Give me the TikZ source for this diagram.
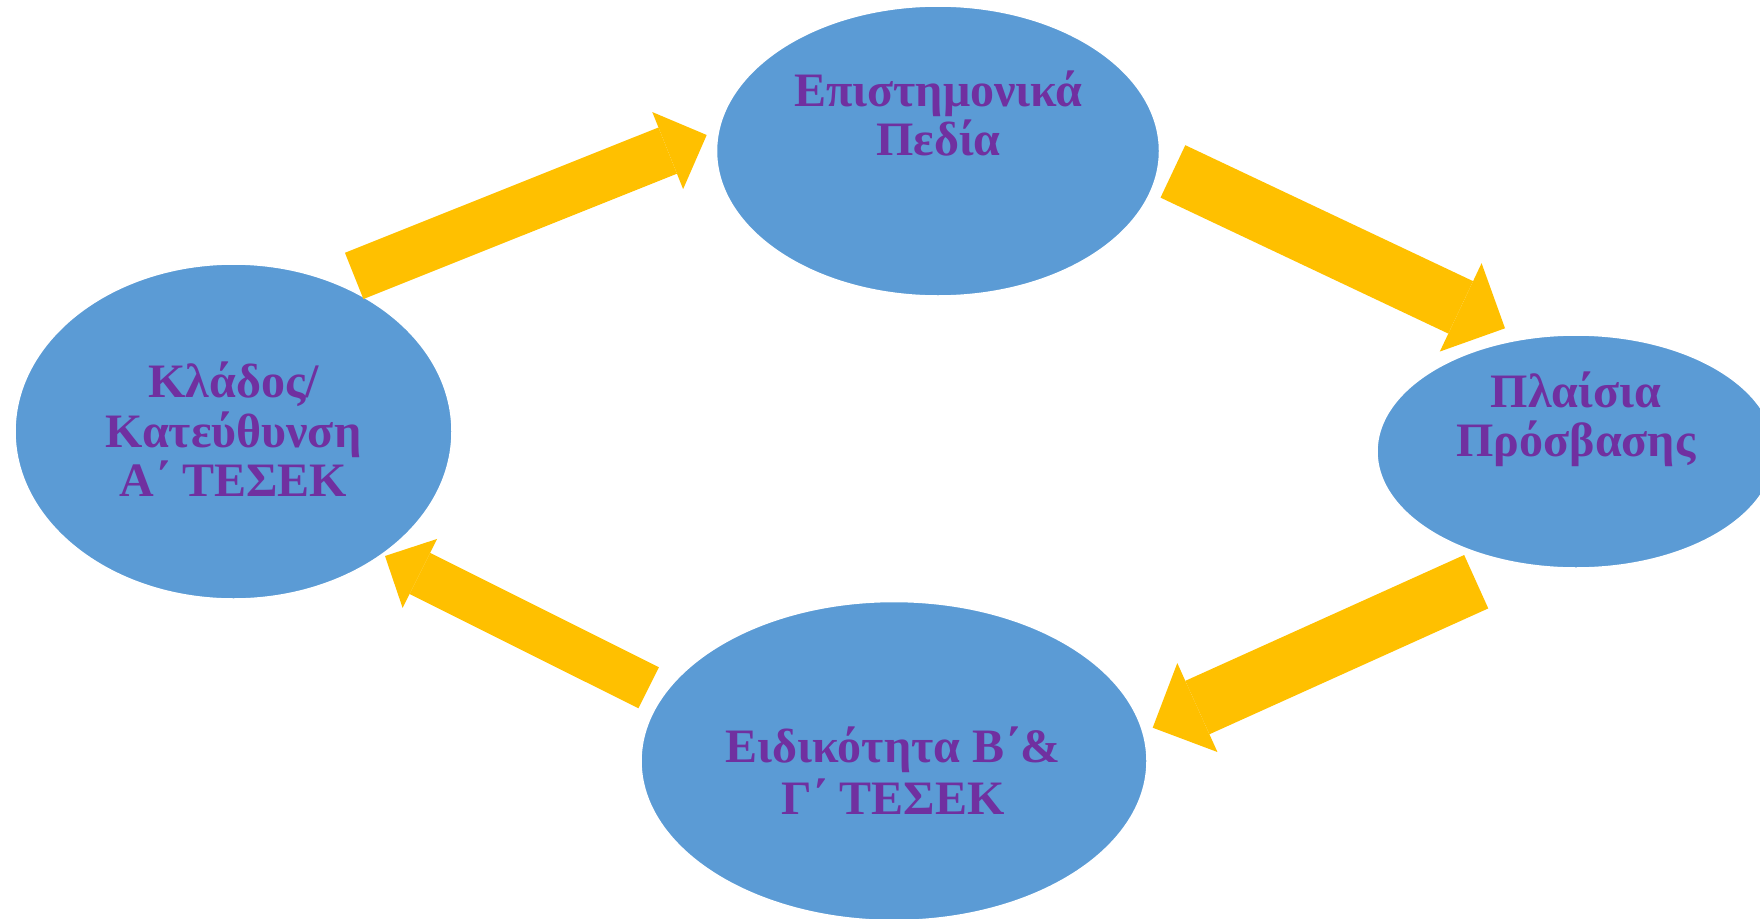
\documentclass[tikz,border=0pt]{standalone}
\usepackage{fontspec}
\setmainfont{Liberation Serif}
\usetikzlibrary{shapes.geometric,arrows.meta}
\definecolor{ellblue}{HTML}{5B9BD5}
\definecolor{arrgold}{HTML}{FFC000}
\definecolor{txtpurple}{HTML}{7030A0}
\tikzset{
  ell/.style={ellipse, fill=ellblue, draw=white, line width=1.5pt, inner sep=0pt},
  txt/.style={anchor=base, text=txtpurple, inner sep=0pt, font=\fontsize{48}{50}\selectfont\bfseries},
  blockarrow/.style={draw=arrgold, line cap=butt}
}
\begin{document}
\begin{tikzpicture}[x=1pt,y=-1pt]
\useasboundingbox (0,0) rectangle (1760,918);
\begin{scope}
\clip (0,0) rectangle (1760,918);
% ellipses
\node[ell, minimum width=443pt, minimum height=290pt] (top) at (938,151) {};
\node[ell, minimum width=437pt, minimum height=335pt] (left) at (233.5,431.5) {};
\node[ell, minimum width=398pt, minimum height=233pt] (right) at (1576,451.5) {};
\node[ell, minimum width=506pt, minimum height=319pt] (bottom) at (894,761) {};
% texts
\node[txt] (t1) at (938.5,106) {Επιστημονικά};
\node[txt] (t2) at (938.5,155) {Πεδία};
\node[txt] (l1) at (233.5,397) {Κλάδος/};
\node[txt] (l2) at (233.5,447) {Κατεύθυνση};
\node[txt] (l3) at (233.5,496) {Α΄ ΤΕΣΕΚ};
\node[txt] (r1) at (1576,407) {Πλαίσια};
\node[txt] (r2) at (1576,456) {Πρόσβασης};
\node[txt] (b1) at (893,762.5) {Ειδικότητα Β΄\&};
\node[txt] (b2) at (893,814) {Γ΄ ΤΕΣΕΚ};
% arrow ends
\coordinate (a1s) at (354.2,275.9);
\coordinate (a1e) at (706.7,135);
\coordinate (a2s) at (1172.9,171.4);
\coordinate (a2e) at (1505,328.3);
\coordinate (a3s) at (1476.2,581.7);
\coordinate (a3e) at (1152.7,727.7);
\coordinate (a4s) at (648.7,687.8);
\coordinate (a4e) at (385,556);
% arrows
\draw[blockarrow, line width=49.8pt, -{Triangle[length=42pt,width=83pt,line width=0pt,fill=arrgold]}] (a1s) -- (a1e);
\draw[blockarrow, line width=58pt, -{Triangle[length=49pt,width=97.7pt,line width=0pt,fill=arrgold]}] (a2s) -- (a2e);
\draw[blockarrow, line width=58.6pt, -{Triangle[length=49pt,width=97.6pt,line width=0pt,fill=arrgold]}] (a3s) -- (a3e);
\draw[blockarrow, line width=45.9pt, -{Triangle[length=39pt,width=77.2pt,line width=0pt,fill=arrgold]}] (a4s) -- (a4e);
\end{scope}
\end{tikzpicture}
\end{document}
